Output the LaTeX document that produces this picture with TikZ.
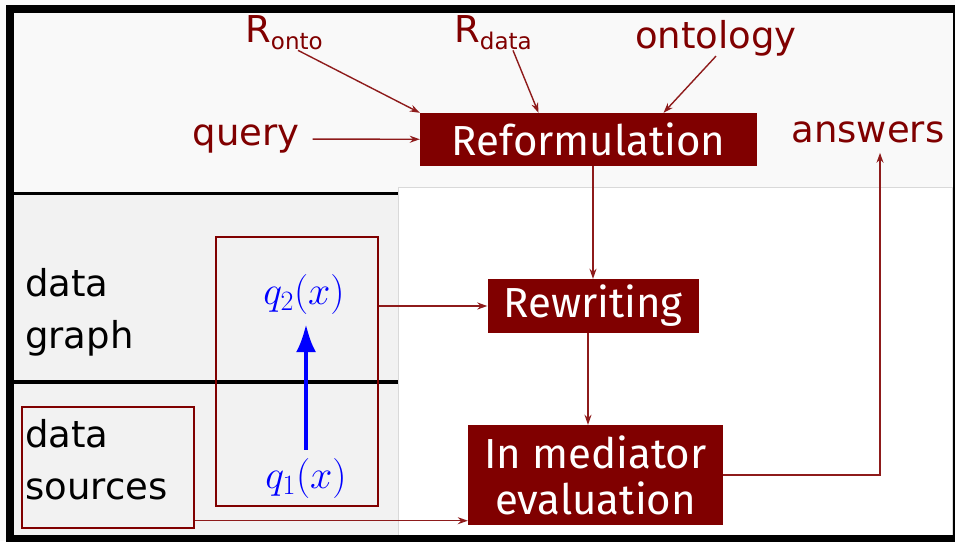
\documentclass[tikz,border=0pt]{standalone}
\usepackage{fix-cm}
\usepackage{amsmath}
\usepackage{fontspec}
\newfontfamily\labelfont{DejaVu Sans}
\newfontfamily\stagefont{Fira Sans}
\usepackage{tikz}
\usetikzlibrary{positioning,arrows.meta}
\usepackage{xcolor}
\definecolor{darkred}{HTML}{800000}
\definecolor{linkred}{HTML}{8E1B1B}
\definecolor{panelgray}{HTML}{F2F2F2}
\definecolor{toplight}{HTML}{F9F9F9}

\begin{document}
\begin{tikzpicture}[x=1pt,y=-1pt, >={Stealth[length=10pt,width=7pt]},
  stage/.style={fill=darkred,text=white,inner sep=0pt,align=center,
    font=\stagefont\fontsize{42}{46}\selectfont},
  lbl/.style={text=darkred,inner sep=0pt,font=\labelfont\fontsize{37}{44}\selectfont},
  layer/.style={inner sep=0pt,align=left,font=\labelfont\fontsize{37}{52}\selectfont},
  frame/.style={draw=darkred,line width=1.4pt,inner sep=0pt},
  qterm/.style={text=blue,inner sep=0pt,font=\fontsize{40}{46}\selectfont},
  link/.style={->,draw=linkred,line width=1.4pt}]
\useasboundingbox (0,0) rectangle (955,541);
% panels
\fill[toplight] (0,0) rectangle (955,541);
\fill[panelgray] (14,193) rectangle (398,537);
\filldraw[fill=white,draw=black!15] (398,187) rectangle (952,537);
\draw[line width=3pt] (14,193) -- (398,193);
\draw[line width=4pt] (14,382) -- (398,382);
\draw[line width=8pt] (10,9) rectangle (957,539);
% layers
\node[layer,anchor=north west] (dgraph) at (25,268) {data\\graph};
\node[layer,anchor=north west] (dsrc) at (25,419) {data\\sources};
\node[frame,minimum width=172,minimum height=121] (srcbox) at (108,467.5) {};
\node[frame,minimum width=162,minimum height=269] (qbox) at (297,371.5) {};
\node[qterm] (q2) at (304,294) {$q_2(x)$};
\node[qterm] (q1) at (306,478) {$q_1(x)$};
% steps
\node[stage,minimum width=337,minimum height=53] (reform) at (588.5,139.5) {Reformulation};
\node[stage,minimum width=211,minimum height=54] (rewrite) at (593,306) {Rewriting};
\node[stage,minimum width=255,minimum height=100] (eval) at (595.5,475) {In mediator\\evaluation};
% inputs and outputs
\node[lbl] (ronto) at (284,33) {R\raisebox{-7pt}{\fontsize{23}{27}\selectfont onto}};
\node[lbl] (rdata) at (493,33) {R\raisebox{-7pt}{\fontsize{23}{27}\selectfont data}};
\node[lbl] (onto) at (716,38) {ontology};
\node[lbl] (query) at (246,139) {query};
\node[lbl] (answers) at (868,132) {answers};
\draw[link] ([xshift=14pt]ronto.south) -- (reform.north west);
\draw[link] ([xshift=20pt]rdata.south) -- ([xshift=-50pt]reform.north);
\draw[link] (onto.south) -- ([xshift=75pt]reform.north);
\draw[link,shorten <=13pt] (query) -- (reform);
\draw[link] (reform.south -| rewrite.north) -- (rewrite.north);
\draw[link] (qbox.east |- rewrite.west) -- (rewrite.west);
\draw[link] ([xshift=-5pt]rewrite.south) -- ([xshift=-5pt]rewrite.south |- eval.north);
\draw[link,shorten >=10pt] (eval.east) -| ([xshift=12pt]answers.south);
\draw[link] ([yshift=8pt]srcbox.south east) -- ([yshift=8pt]srcbox.south east -| eval.west);
\draw[blue,line width=4pt,-{Latex[length=28pt,width=20pt]},shorten <=8pt,shorten >=10pt] (q1.north) -- (q1.north |- q2.south);
\end{tikzpicture}
\end{document}
